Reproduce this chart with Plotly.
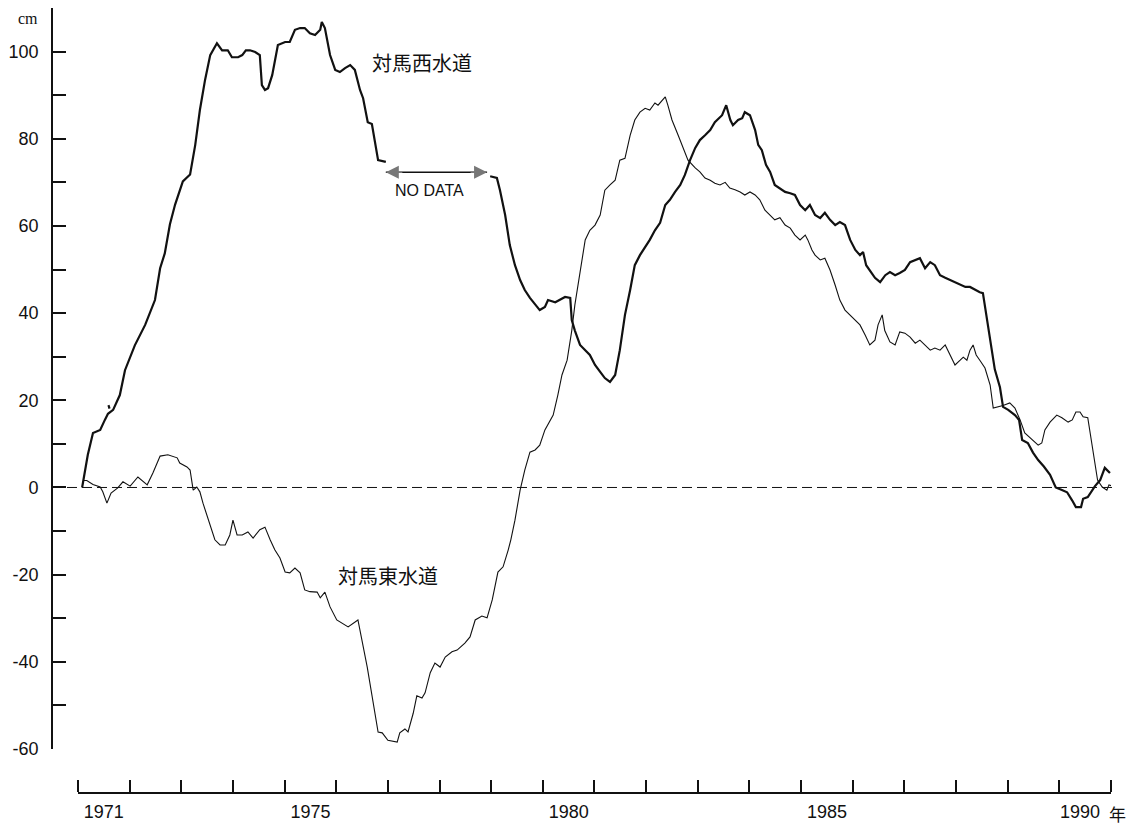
import plotly.graph_objects as go

# ---- data (decimal year, cm) ----
west_years_a = [1971.08, 1971.19, 1971.29, 1971.43, 1971.52, 1971.58, 1971.68, 1971.81, 1971.91,
                1972.10, 1972.30, 1972.49, 1972.59, 1972.68, 1972.78, 1972.88, 1973.03, 1973.17,
                1973.27, 1973.36, 1973.46, 1973.56, 1973.69, 1973.79, 1973.90, 1973.98, 1974.10,
                1974.18, 1974.25, 1974.33, 1974.43, 1974.52, 1974.56, 1974.62, 1974.68, 1974.76,
                1974.87, 1975.01, 1975.10, 1975.20, 1975.30, 1975.39, 1975.49, 1975.59, 1975.69,
                1975.72, 1975.78, 1975.88, 1975.98, 1976.07, 1976.17, 1976.27, 1976.36, 1976.46,
                1976.52, 1976.61, 1976.69, 1976.75, 1976.81, 1976.96]
west_values_a = [0.0, 7.5, 12.5, 13.2, 15.5, 16.9, 17.8, 21.2, 26.9,
                 32.6, 37.3, 43.0, 50.3, 53.7, 60.4, 64.9, 70.2, 71.8,
                 78.6, 86.6, 93.5, 99.2, 101.9, 100.3, 100.3, 98.7, 98.7,
                 99.2, 100.3, 100.3, 99.9, 99.2, 92.3, 91.2, 91.6, 94.6,
                 101.5, 102.2, 102.2, 105.0, 105.4, 105.4, 104.2, 103.8, 105.0,
                 106.8, 105.4, 99.2, 95.8, 95.3, 96.2, 96.9, 95.8, 91.2,
                 89.3, 83.8, 83.4, 79.7, 75.1, 74.7]

# tiny isolated stroke printed near the start of the western curve
west_stray_years = [1971.59, 1971.61]
west_stray_values = [18.9, 18.1]

west_years_b = [1978.98, 1979.11, 1979.17, 1979.27, 1979.36, 1979.46, 1979.56, 1979.65, 1979.75,
                1979.85, 1979.94, 1980.04, 1980.10, 1980.24, 1980.33, 1980.43, 1980.53, 1980.56,
                1980.62, 1980.72, 1980.91, 1981.01, 1981.11, 1981.20, 1981.30, 1981.40, 1981.49,
                1981.59, 1981.69, 1981.78, 1981.88, 1981.98, 1982.07, 1982.17, 1982.27, 1982.37,
                1982.46, 1982.56, 1982.66, 1982.75, 1982.85, 1982.95, 1983.04, 1983.14, 1983.24,
                1983.33, 1983.47, 1983.55, 1983.63, 1983.68, 1983.78, 1983.86, 1983.91, 1984.01,
                1984.11, 1984.17, 1984.24, 1984.32, 1984.40, 1984.49, 1984.59, 1984.69, 1984.79,
                1984.88, 1984.98, 1985.08, 1985.17, 1985.27, 1985.37, 1985.46, 1985.56, 1985.66,
                1985.75, 1985.85, 1985.95, 1986.05, 1986.14, 1986.20, 1986.26, 1986.33, 1986.43,
                1986.53, 1986.63, 1986.72, 1986.82, 1986.91, 1987.01, 1987.11, 1987.21, 1987.30,
                1987.40, 1987.50, 1987.59, 1987.69, 1987.79, 1987.88, 1987.98, 1988.08, 1988.18,
                1988.27, 1988.37, 1988.46, 1988.52, 1988.58, 1988.66, 1988.75, 1988.85, 1988.91,
                1989.01, 1989.14, 1989.22, 1989.28, 1989.39, 1989.49, 1989.59, 1989.70, 1989.82,
                1989.93, 1990.05, 1990.15, 1990.25, 1990.32, 1990.42, 1990.46, 1990.55, 1990.69,
                1990.79, 1990.88, 1990.98]
west_values_b = [71.4, 71.0, 68.2, 62.5, 55.6, 51.0, 47.6, 45.3, 43.5,
                 41.9, 40.7, 41.4, 43.0, 42.5, 43.0, 43.7, 43.5, 38.4,
                 36.0, 32.7, 30.4, 28.1, 26.5, 25.1, 24.2, 25.8, 31.5,
                 39.6, 45.3, 51.0, 53.3, 55.0, 56.8, 59.0, 60.7, 64.8,
                 66.0, 67.8, 69.4, 71.7, 75.1, 77.9, 79.7, 80.8, 82.0,
                 83.8, 85.4, 87.7, 84.3, 83.1, 84.3, 84.7, 86.1, 85.4,
                 82.0, 78.6, 77.4, 74.0, 72.4, 69.4, 68.7, 67.8, 67.5,
                 67.1, 64.8, 63.6, 64.8, 62.5, 61.8, 63.0, 61.4, 60.2,
                 60.9, 60.2, 56.8, 54.5, 53.3, 54.0, 51.0, 49.9, 48.1,
                 47.1, 48.7, 49.4, 48.7, 49.2, 49.9, 51.7, 52.2, 52.6,
                 50.3, 51.7, 51.0, 48.7, 48.1, 47.6, 47.1, 46.4, 46.0,
                 46.0, 45.3, 44.8, 44.6, 40.3, 33.8, 27.1, 23.0, 18.5,
                 17.8, 16.6, 15.5, 10.9, 10.2, 8.0, 6.3, 4.8, 2.9,
                 0.0, -0.6, -1.1, -3.0, -4.5, -4.5, -2.6, -2.2, 0.3,
                 1.7, 4.5, 3.3]

east_years = [1971.10, 1971.17, 1971.29, 1971.37, 1971.43, 1971.48, 1971.56, 1971.64, 1971.72,
              1971.77, 1971.87, 1972.01, 1972.16, 1972.34, 1972.45, 1972.59, 1972.74, 1972.92,
              1972.97, 1973.11, 1973.17, 1973.23, 1973.30, 1973.36, 1973.42, 1973.52, 1973.58,
              1973.65, 1973.75, 1973.85, 1973.94, 1974.00, 1974.08, 1974.18, 1974.29, 1974.39,
              1974.52, 1974.62, 1974.72, 1974.81, 1974.91, 1975.01, 1975.10, 1975.20, 1975.30,
              1975.39, 1975.49, 1975.63, 1975.69, 1975.78, 1975.88, 1976.01, 1976.23, 1976.42,
              1976.60, 1976.71, 1976.81, 1976.89, 1977.00, 1977.18, 1977.23, 1977.33, 1977.39,
              1977.49, 1977.56, 1977.66, 1977.72, 1977.82, 1977.91, 1978.01, 1978.11, 1978.24,
              1978.34, 1978.49, 1978.59, 1978.69, 1978.82, 1978.92, 1979.02, 1979.13, 1979.23,
              1979.33, 1979.38, 1979.46, 1979.56, 1979.65, 1979.75, 1979.85, 1979.94, 1980.04,
              1980.14, 1980.20, 1980.29, 1980.37, 1980.47, 1980.56, 1980.62, 1980.72, 1980.82,
              1980.91, 1981.01, 1981.11, 1981.20, 1981.30, 1981.40, 1981.49, 1981.59, 1981.69,
              1981.78, 1981.88, 1981.98, 1982.07, 1982.17, 1982.23, 1982.31, 1982.37, 1982.42,
              1982.50, 1982.62, 1982.71, 1982.81, 1982.95, 1983.04, 1983.14, 1983.24, 1983.33,
              1983.43, 1983.53, 1983.62, 1983.72, 1983.82, 1983.91, 1984.01, 1984.11, 1984.20,
              1984.30, 1984.40, 1984.49, 1984.59, 1984.69, 1984.79, 1984.88, 1984.98, 1985.08,
              1985.13, 1985.21, 1985.27, 1985.37, 1985.46, 1985.56, 1985.66, 1985.75, 1985.85,
              1985.95, 1986.04, 1986.14, 1986.24, 1986.33, 1986.43, 1986.49, 1986.57, 1986.62,
              1986.72, 1986.82, 1986.91, 1987.01, 1987.11, 1987.21, 1987.30, 1987.40, 1987.50,
              1987.59, 1987.69, 1987.79, 1987.88, 1987.98, 1988.08, 1988.14, 1988.21, 1988.27,
              1988.33, 1988.39, 1988.46, 1988.52, 1988.56, 1988.66, 1988.72, 1988.91, 1989.04,
              1989.14, 1989.24, 1989.33, 1989.47, 1989.59, 1989.66, 1989.72, 1989.82, 1989.95,
              1990.05, 1990.17, 1990.25, 1990.32, 1990.40, 1990.46, 1990.55, 1990.65, 1990.74,
              1990.83, 1990.92, 1990.96, 1991.03]
east_values = [1.6, 1.6, 0.7, 0.3, 0.1, -1.0, -3.6, -1.3, -0.6,
               -0.1, 1.3, 0.3, 2.4, 0.6, 3.3, 7.2, 7.5, 6.8,
               5.6, 4.7, 4.0, -0.6, 0.1, -1.0, -3.6, -7.5, -9.8,
               -12.0, -13.2, -13.2, -10.9, -7.5, -10.9, -10.9, -10.2, -11.6,
               -9.7, -9.1, -12.0, -14.3, -16.2, -19.4, -19.6, -18.5, -19.6,
               -23.5, -23.9, -24.0, -25.3, -24.0, -27.4, -30.4, -32.0, -30.4,
               -41.2, -48.7, -56.1, -56.3, -58.0, -58.4, -56.3, -55.4, -56.1,
               -51.8, -47.8, -48.3, -47.1, -42.5, -40.3, -41.2, -38.9, -37.7,
               -37.3, -35.7, -34.3, -30.4, -29.5, -29.9, -25.8, -19.4, -18.2,
               -14.3, -12.0, -7.5, -0.6, 4.0, 8.1, 8.6, 9.7, 13.2,
               15.5, 16.6, 21.2, 25.8, 29.2, 36.0, 41.9, 49.9, 56.8,
               59.0, 60.2, 62.5, 68.2, 69.4, 70.5, 75.1, 75.5, 80.8,
               84.3, 86.1, 87.0, 86.6, 88.2, 87.7, 88.9, 89.6, 87.7,
               84.3, 80.8, 77.9, 75.1, 73.3, 72.4, 71.0, 70.5, 69.8,
               69.4, 70.0, 68.7, 68.3, 67.8, 67.1, 67.8, 67.1, 66.0,
               63.6, 62.5, 61.4, 61.9, 60.2, 59.5, 57.9, 56.8, 57.9,
               56.8, 54.5, 53.3, 52.2, 52.6, 49.9, 46.4, 43.0, 40.7,
               39.6, 38.4, 37.3, 35.0, 32.7, 33.8, 37.3, 39.6, 36.0,
               33.4, 32.7, 35.7, 35.4, 34.5, 33.1, 33.8, 32.7, 31.5,
               32.0, 31.5, 32.7, 30.4, 28.1, 29.2, 29.9, 29.2, 31.5,
               32.7, 30.4, 29.2, 28.1, 27.4, 23.5, 18.2, 18.8, 19.4,
               18.2, 15.5, 12.5, 10.9, 9.7, 10.2, 13.2, 15.0, 16.6,
               16.0, 15.0, 15.5, 17.3, 17.3, 16.2, 16.0, 7.9, 1.7,
               0.1, -0.6, 0.6, 0.3]

year_tick_vals = list(range(1971, 1992))
year_label_pos = [1971.5, 1975.5, 1980.5, 1985.5, 1990.4]
year_label_text = ["1971", "1975", "1980", "1985", "1990"]
y_tick_vals = list(range(-60, 111, 10))
y_tick_text = [str(v) if (v % 20 == 0 and v <= 100) else "" for v in y_tick_vals]

gap_start, gap_end, gap_level = 1976.96, 1978.92, 72.3

west_label = "対馬西水道"
east_label = "対馬東水道"

# ---- figure ----
fig = go.Figure()
for xs, ys in [(west_years_a, west_values_a), (west_stray_years, west_stray_values),
               (west_years_b, west_values_b)]:
    fig.add_trace(go.Scatter(x=xs, y=ys, mode="lines", hoverinfo="skip",
                             line=dict(color="#111", width=2.2), showlegend=False))
fig.add_trace(go.Scatter(x=east_years, y=east_values, mode="lines", hoverinfo="skip",
                         line=dict(color="#111", width=1.1), showlegend=False))

num_font = dict(family="Liberation Sans, Arial, sans-serif", size=18, color="#111")
cjk_font = dict(family="Noto Sans CJK JP, sans-serif", size=20, color="#111")

fig.update_layout(
    width=1132, height=827,
    margin=dict(l=52, r=21, t=8, b=34, autoexpand=False),
    paper_bgcolor="white", plot_bgcolor="white",
    xaxis=dict(domain=[0.02455, 1], range=[1971, 1991], anchor="free", position=0,
               automargin=False,
               showline=True, linecolor="#111", linewidth=1.6, showgrid=False, zeroline=False,
               tickmode="array", tickvals=year_label_pos, ticktext=year_label_text,
               ticks="", tickfont=num_font, ticklabelstandoff=3,
               minor=dict(tickmode="array", tickvals=year_tick_vals, ticks="inside",
                          ticklen=12, tickwidth=1.5, tickcolor="#111", showgrid=False)),
    yaxis=dict(domain=[0.05605, 1], range=[-60, 110], anchor="free", position=0,
               automargin=False,
               showline=True, linecolor="#111", linewidth=1.6, showgrid=False, zeroline=False,
               tickmode="array", tickvals=y_tick_vals, ticktext=y_tick_text,
               ticks="inside", ticklen=13, tickwidth=1.5, tickcolor="#111",
               tickfont=num_font, ticklabelstandoff=9),
)

# zero dashed reference line
fig.add_shape(type="line", xref="paper", yref="y", x0=0, x1=1.004, y0=0, y1=0,
              line=dict(color="#111", width=1, dash="10px,5px"))

# NO DATA arrow
fig.add_shape(type="line", xref="x", yref="y", x0=gap_start, x1=gap_end,
              y0=gap_level, y1=gap_level, line=dict(color="#111", width=1.5))
for tip, off in [(gap_start, 18), (gap_end, -18)]:
    fig.add_annotation(x=tip, y=gap_level, xref="x", yref="y", ax=off, ay=0,
                       showarrow=True, arrowhead=2, arrowsize=2.0, arrowwidth=1.3,
                       arrowcolor="#777", text="")
fig.add_annotation(x=1977.80, y=68.2, xref="x", yref="y", text="NO DATA",
                   showarrow=False, xanchor="center", yanchor="middle",
                   font=dict(family="Liberation Sans Narrow, Liberation Sans, Arial, sans-serif",
                             size=16, color="#111"))

# series labels
fig.add_annotation(x=1977.66, y=97.4, xref="x", yref="y", text=west_label,
                   showarrow=False, xanchor="center", yanchor="middle", font=cjk_font)
fig.add_annotation(x=1977.0, y=-20.1, xref="x", yref="y", text=east_label,
                   showarrow=False, xanchor="center", yanchor="middle", font=cjk_font)

# unit labels
fig.add_annotation(x=-0.0227, y=0.987, xref="paper", yref="paper", text="cm",
                   showarrow=False, xanchor="center", yanchor="middle",
                   font=dict(family="Liberation Serif, serif", size=16, color="#111"))
fig.add_annotation(x=1.0057, y=-0.0255, xref="paper", yref="paper", text="年",
                   showarrow=False, xanchor="center", yanchor="middle",
                   font=dict(family="Noto Sans CJK JP, sans-serif", size=17, color="#111"))

fig.write_html("out.html", config={"displayModeBar": False},
               post_script="document.body.style.margin='0px';")
